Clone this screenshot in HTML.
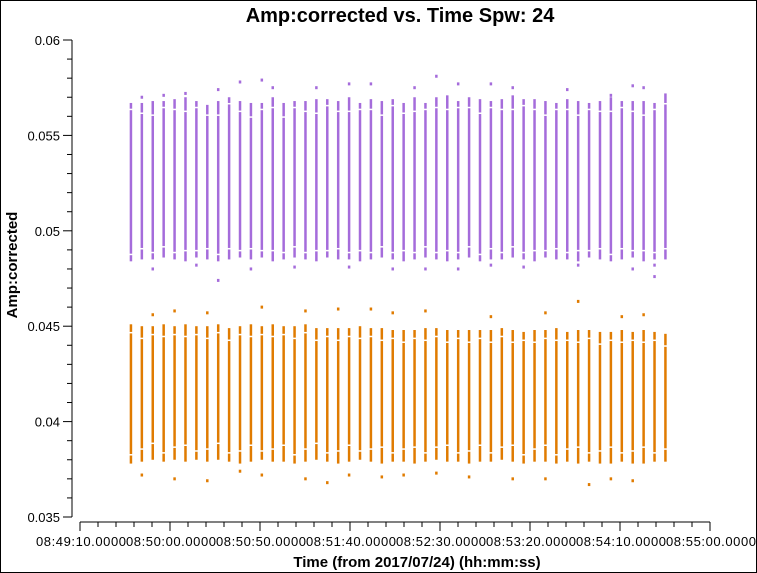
<!DOCTYPE html>
<html><head><meta charset="utf-8">
<style>
html,body{margin:0;padding:0;background:#fff;}
svg{display:block;font-family:"Liberation Sans",sans-serif;}
</style></head>
<body>
<svg id="chart" width="757" height="573" viewBox="0 0 757 573">
<rect x="0.5" y="0.5" width="756" height="572" fill="#fff" stroke="#000"/>
<text x="400" y="22" font-size="20" font-weight="bold" text-anchor="middle">Amp:corrected vs. Time Spw: 24</text>
<text transform="translate(17,265) rotate(-90)" font-size="15" font-weight="bold" text-anchor="middle">Amp:corrected</text>
<text x="417" y="567" font-size="15" font-weight="bold" text-anchor="middle">Time (from 2017/07/24) (hh:mm:ss)</text>
<g id="axes"></g>
<g id="marks"></g>
</svg>
<script>
// time offsets (s) from 08:49:10 for each scan column
const colStart = 28.3, colStep = 6.06, nCols = 50;
const purpleTop = [0.0567,0.0567,0.0568,0.0568,0.0569,0.0570,0.0568,0.0566,0.0568,0.0570,0.0568,0.0567,0.0567,0.0570,0.0567,0.0568,0.0568,0.0569,0.0569,0.0568,0.0570,0.0567,0.0569,0.0568,0.0569,0.0567,0.0570,0.0567,0.0570,0.0571,0.0568,0.0570,0.0569,0.0568,0.0569,0.0571,0.0569,0.0569,0.0568,0.0567,0.0569,0.0568,0.0567,0.0568,0.0570,0.0568,0.0568,0.0568,0.0567,0.0572];
const purpleBot = [0.0484,0.0485,0.0485,0.0486,0.0485,0.0484,0.0486,0.0485,0.0484,0.0485,0.0486,0.0485,0.0486,0.0484,0.0485,0.0486,0.0485,0.0484,0.0486,0.0485,0.0485,0.0484,0.0485,0.0486,0.0485,0.0484,0.0485,0.0486,0.0485,0.0484,0.0485,0.0486,0.0484,0.0485,0.0485,0.0486,0.0485,0.0484,0.0486,0.0485,0.0485,0.0484,0.0486,0.0485,0.0484,0.0485,0.0486,0.0484,0.0485,0.0485];
const orangeTop = [0.0451,0.0450,0.0450,0.0451,0.0450,0.0451,0.0450,0.0450,0.0451,0.0449,0.0450,0.0451,0.0450,0.0451,0.0450,0.0450,0.0451,0.0449,0.0449,0.0449,0.0449,0.0450,0.0449,0.0449,0.0448,0.0448,0.0448,0.0449,0.0449,0.0448,0.0448,0.0448,0.0448,0.0448,0.0449,0.0448,0.0447,0.0448,0.0448,0.0449,0.0447,0.0448,0.0448,0.0447,0.0447,0.0448,0.0447,0.0448,0.0447,0.0446];
const orangeBot = [0.0378,0.0379,0.0380,0.0379,0.0380,0.0379,0.0380,0.0379,0.0380,0.0379,0.0378,0.0379,0.0380,0.0379,0.0379,0.0378,0.0379,0.0380,0.0379,0.0378,0.0379,0.0380,0.0379,0.0378,0.0379,0.0379,0.0378,0.0379,0.0380,0.0379,0.0379,0.0378,0.0379,0.0379,0.0380,0.0379,0.0378,0.0379,0.0379,0.0378,0.0379,0.0378,0.0379,0.0378,0.0378,0.0379,0.0378,0.0378,0.0379,0.0379];
const purpleOutCol = [1,3,5,8,10,12,13,17,20,22,26,28,30,33,35,40,44,46,47,48];
const purpleOutVal = [0.0570,0.0571,0.0572,0.0574,0.0578,0.0579,0.0575,0.0575,0.0577,0.0577,0.0575,0.0581,0.0577,0.0577,0.0575,0.0574,0.0571,0.0576,0.0575,0.0482];
const purpleLowCol = [2,6,8,11,15,20,24,27,30,33,36,41,46,48];
const purpleLowVal = [0.0480,0.0482,0.0474,0.0480,0.0481,0.0481,0.0480,0.0480,0.0480,0.0482,0.0481,0.0482,0.0480,0.0476];
const orangeOutCol = [2,4,7,12,16,19,22,24,27,33,38,41,45,47];
const orangeOutVal = [0.0456,0.0458,0.0457,0.0460,0.0458,0.0459,0.0459,0.0457,0.0458,0.0455,0.0457,0.0463,0.0455,0.0456];
const orangeLowCol = [1,4,7,10,12,16,18,20,23,25,28,31,35,38,42,44,46];
const orangeLowVal = [0.0372,0.0370,0.0369,0.0374,0.0372,0.0370,0.0368,0.0372,0.0371,0.0372,0.0373,0.0371,0.0370,0.0370,0.0367,0.0370,0.0369];
const yTicks = [0.035,0.04,0.045,0.05,0.055,0.06];
const yTickLabels = ["0.035","0.04","0.045","0.05","0.055","0.06"];
const xTicks = [0,50,100,150,200,250,300,350];
const xTickLabels = ["08:49:10.0000","08:50:00.0000","08:50:50.0000","08:51:40.0000","08:52:30.0000","08:53:20.0000","08:54:10.0000","08:55:00.0000"];

const NS="http://www.w3.org/2000/svg";
const X0=80, XS=1.8, Y0=517, YV=0.035, YS=19080;
const xs = t => X0 + t*XS;
const ys = v => Y0 - (v-YV)*YS;
const axes=document.getElementById('axes'), marks=document.getElementById('marks');
function mk(tag, attrs, parent){const e=document.createElementNS(NS,tag);for(const k in attrs)e.setAttribute(k,attrs[k]);parent.appendChild(e);return e;}

// y axis
let l=mk('line',{x1:72,y1:ys(0.06),x2:72,y2:ys(0.035),stroke:'#000'},axes);


for(let v=0.035; v<=0.0601; v+=0.001){
  const major=Math.abs(Math.round(v*200)-v*200)<1e-6;
  const t=mk('line',{x1:major?63:67,y1:ys(v),x2:72,y2:ys(v),stroke:'#000'},axes);
  
  
}
yTicks.forEach((v,i)=>{
  const t=mk('text',{x:60,y:ys(v)+5,'font-size':13,'text-anchor':'end'},axes);
  t.textContent=yTickLabels[i];
  
  
});
// x axis
l=mk('line',{x1:xs(0),y1:522,x2:xs(350),y2:522,stroke:'#000'},axes);


for(let t=0;t<=350;t+=10){
  const major=t%50===0;
  const e=mk('line',{x1:xs(t),y1:522,x2:xs(t),y2:major?531:527,stroke:'#000'},axes);
  
  
}
xTicks.forEach((t,i)=>{
  const e=mk('text',{x:xs(t)-44,y:546,'font-size':13,textLength:90,lengthAdjust:'spacing'},axes);
  e.textContent=xTickLabels[i];
  
  
});

function bar(i,top,bot,color,name){
  const t=colStart+i*colStep;
  const r=mk('rect',{x:xs(t)-1.25,y:ys(top),width:2.5,height:ys(bot)-ys(top),fill:color},marks);
  
  
}
function dot(i,v,color,name){
  const t=colStart+i*colStep;
  const r=mk('rect',{x:xs(t)-1.25,y:ys(v)-1.5,width:2.5,height:3,fill:color},marks);
  
  
}
const P='#a56cdb', O='#e07b00';
for(let i=0;i<nCols;i++){
  bar(i,purpleTop[i],purpleBot[i],P,'purple-bar');
  bar(i,orangeTop[i],orangeBot[i],O,'orange-bar');
  const t=colStart+i*colStep;
  [purpleTop[i]-0.0003-(i%3)*0.0002, purpleBot[i]+0.0004+(i%2)*0.0002, orangeTop[i]-0.0004-(i%2)*0.0002, orangeBot[i]+0.0005+(i%3)*0.0002].forEach(v=>{
    const g=mk('rect',{x:xs(t)-2,y:ys(v),width:4,height:1.5,fill:'#fff'},marks);
    
    
  });
}
purpleOutCol.forEach((c,k)=>dot(c,purpleOutVal[k],P,'purple-outlier'));
purpleLowCol.forEach((c,k)=>dot(c,purpleLowVal[k],P,'purple-outlier'));
orangeOutCol.forEach((c,k)=>dot(c,orangeOutVal[k],O,'orange-outlier'));
orangeLowCol.forEach((c,k)=>dot(c,orangeLowVal[k],O,'orange-outlier'));
</script>
</body></html>
